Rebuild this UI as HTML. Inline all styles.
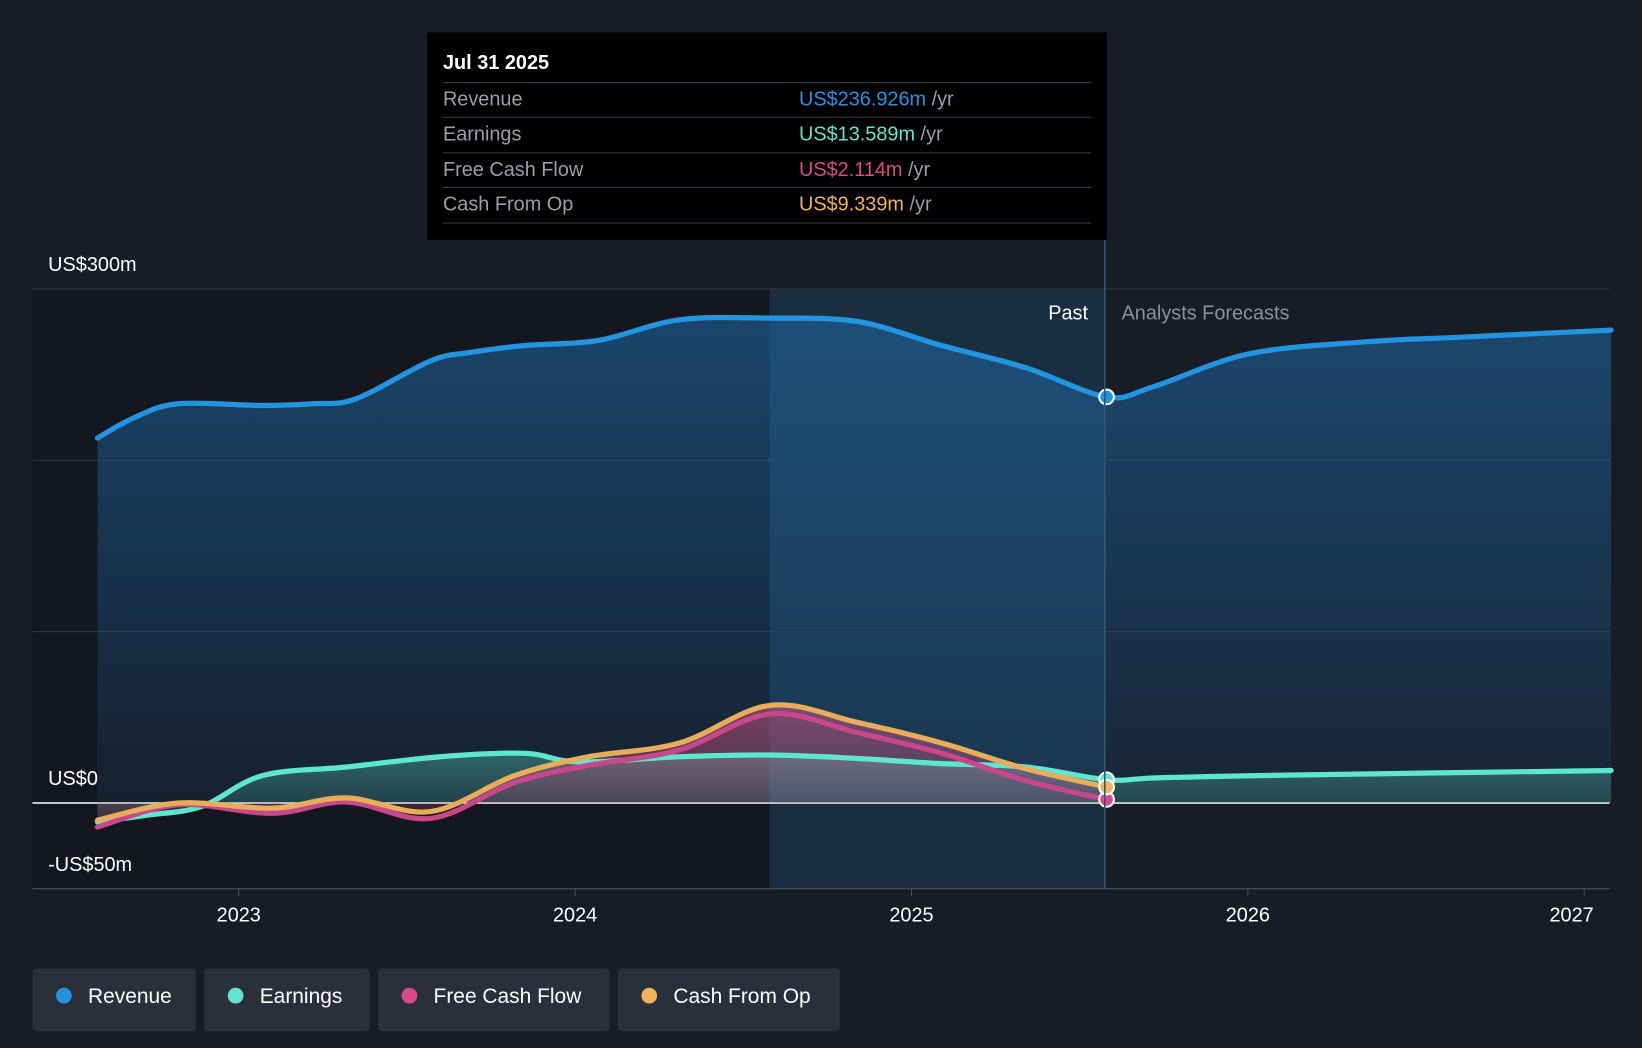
<!DOCTYPE html>
<html><head><meta charset="utf-8"><style>
html,body{margin:0;padding:0;background:#181c25;}
svg{display:block;font-family:"Liberation Sans",sans-serif;}
</style></head><body>
<svg id="chart" width="1642" height="1048" viewBox="0 0 1568 1001" preserveAspectRatio="none" xmlns="http://www.w3.org/2000/svg">
<defs>
<linearGradient id="revGrad" x1="0" y1="0" x2="0" y2="1"><stop offset="0" stop-color="#1f6aa8" stop-opacity="0.55"/><stop offset="1" stop-color="#1f6aa8" stop-opacity="0.12"/></linearGradient>
<linearGradient id="earnGrad" x1="0" y1="0" x2="0" y2="1"><stop offset="0" stop-color="#5fe0c8" stop-opacity="0.35"/><stop offset="1" stop-color="#5fe0c8" stop-opacity="0.1"/></linearGradient>
<linearGradient id="cfoGrad" x1="0" y1="0" x2="0" y2="1"><stop offset="0" stop-color="#e05a8a" stop-opacity="0.5"/><stop offset="1" stop-color="#e05a8a" stop-opacity="0.15"/></linearGradient>
</defs>
<rect x="0" y="0" width="1568" height="1001" fill="#181c25"/>
<rect x="31" y="276" width="704" height="573" fill="#14171e"/>
<rect x="735" y="276" width="320" height="573" fill="#1c3a55" opacity="0.6"/>
<g id="grid"></g>
<g id="areas"></g>
<g id="lines"></g>
<g id="axis"></g>
<line x1="1055" y1="229" x2="1055" y2="849" stroke="#2f5878" stroke-width="1.5"/>
<text x="1039" y="305" fill="#ffffff" font-size="19" text-anchor="end">Past</text>
<text x="1071" y="305" fill="#8a8f98" font-size="19">Analysts Forecasts</text>
<text x="46" y="259" fill="#ffffff" font-size="19">US$300m</text>
<text x="46" y="750" fill="#ffffff" font-size="19">US$0</text>
<text x="46" y="832" fill="#ffffff" font-size="19">-US$50m</text>
<g>
<rect x="408" y="31" width="649" height="198" fill="#000000"/>
<text x="423" y="66" fill="#ffffff" font-size="19" font-weight="bold">Jul 31 2025</text>
<line x1="423" y1="79" x2="1042" y2="79" stroke="#3a3d44"/>
<text x="423" y="101" fill="#9a9ea6" font-size="19">Revenue</text>
<text x="763" y="101" font-size="19"><tspan fill="#2394df">US$236.926m</tspan><tspan fill="#9a9ea6"> /yr</tspan></text>
<line x1="423" y1="112" x2="1042" y2="112" stroke="#3a3d44"/>
<text x="423" y="134" fill="#9a9ea6" font-size="19">Earnings</text>
<text x="763" y="134" font-size="19"><tspan fill="#5fe6cf">US$13.589m</tspan><tspan fill="#9a9ea6"> /yr</tspan></text>
<line x1="423" y1="146" x2="1042" y2="146" stroke="#3a3d44"/>
<text x="423" y="168" fill="#9a9ea6" font-size="19">Free Cash Flow</text>
<text x="763" y="168" font-size="19"><tspan fill="#d94a8c">US$2.114m</tspan><tspan fill="#9a9ea6"> /yr</tspan></text>
<line x1="423" y1="179" x2="1042" y2="179" stroke="#3a3d44"/>
<text x="423" y="201" fill="#9a9ea6" font-size="19">Cash From Op</text>
<text x="763" y="201" font-size="19"><tspan fill="#f0b45a">US$9.339m</tspan><tspan fill="#9a9ea6"> /yr</tspan></text>
<line x1="423" y1="213" x2="1042" y2="213" stroke="#3a3d44"/>
</g>
<g>
<g><rect x="31" y="925" width="156" height="60" rx="4" fill="#2a2f3a"/><circle cx="61" cy="951" r="7.5" fill="#2394df"/><text x="84" y="958" fill="#fff" font-size="20">Revenue</text></g>
<g><rect x="195" y="925" width="158" height="60" rx="4" fill="#2a2f3a"/><circle cx="225" cy="951" r="7.5" fill="#5fe6cf"/><text x="248" y="958" fill="#fff" font-size="20">Earnings</text></g>
<g><rect x="361" y="925" width="221" height="60" rx="4" fill="#2a2f3a"/><circle cx="391" cy="951" r="7.5" fill="#d94a8c"/><text x="414" y="958" fill="#fff" font-size="20">Free Cash Flow</text></g>
<g><rect x="590" y="925" width="212" height="60" rx="4" fill="#2a2f3a"/><circle cx="620" cy="951" r="7.5" fill="#f0b45a"/><text x="643" y="958" fill="#fff" font-size="20">Cash From Op</text></g>
</g>
</svg>
<script>
const revDates = [2022.58,2022.69,2022.82,2023.07,2023.22,2023.35,2023.57,2023.69,2023.85,2024.07,2024.31,2024.58,2024.84,2025.09,2025.34,2025.58,2025.72,2026.0,2026.34,2026.65,2027.08];
const revValues = [213,225,233,232,233,236,258,263,267,270,282,283,281,267,254,237,243,262,269,272,276];
const earnDates = [2022.58,2022.73,2022.89,2023.07,2023.32,2023.6,2023.85,2024.01,2024.31,2024.58,2024.84,2025.09,2025.34,2025.58,2025.72,2026.03,2027.08];
const earnValues = [-11,-7,-2,16,21,27,29,24,27,28,26,23,21,13.6,14.6,16,19];
const cashDates = [2022.58,2022.82,2023.1,2023.32,2023.57,2023.82,2024.04,2024.31,2024.58,2024.84,2025.09,2025.34,2025.58];
const fcfValues = [-14,-1,-6,0.6,-9,12,22,31,52,41,29,13,2.1];
const cfoValues = [-10,0,-3,3,-5,16,27,35,57,47,35,20,9.3];
const yTicks = [-50,0,100,200,300];
const xTicks = [2023,2024,2025,2026,2027];

const NS="http://www.w3.org/2000/svg";
const X = d => 228 + (d-2023)*321.2;
const Y = v => 767 - v*491/300;
function el(tag, attrs, parent){const e=document.createElementNS(NS,tag);for(const k in attrs)e.setAttribute(k,attrs[k]);document.getElementById(parent).appendChild(e);return e;}
function smooth(pts){let d=`M${pts[0][0]},${pts[0][1]}`;for(let i=0;i<pts.length-1;i++){const p0=pts[i-1]||pts[i],p1=pts[i],p2=pts[i+1],p3=pts[i+2]||p2;const c1=[p1[0]+(p2[0]-p0[0])/6,p1[1]+(p2[1]-p0[1])/6],c2=[p2[0]-(p3[0]-p1[0])/6,p2[1]-(p3[1]-p1[1])/6];d+=`C${c1[0]},${c1[1]} ${c2[0]},${c2[1]} ${p2[0]},${p2[1]}`;}return d;}
function pts(ds,vs){return ds.map((d,i)=>[X(d),Y(vs[i])]);}

yTicks.forEach(v=>{
  const g=el('line',{x1:31,x2:1537,y1:Y(v),y2:Y(v),stroke:v===0?'#ffffff':(v===-50?'#4a4f5a':'#2f3440'),'stroke-width':v===0?1.5:1},'grid');
  
  
});
xTicks.forEach(t=>{
  const tk=el('line',{x1:X(t),x2:X(t),y1:849,y2:856,stroke:'#4a4f5a'},'axis');
  
  
  const tx=el('text',{x:X(t)+(t===2027?-12:0),y:880,fill:'#ffffff','font-size':19,'text-anchor':'middle'},'axis');
  tx.textContent=t;
  
  
});

const rp=pts(revDates,revValues), ep=pts(earnDates,earnValues), fp=pts(cashDates,fcfValues), cp=pts(cashDates,cfoValues);
const z=Y(0);
function area(p,fill,name){const d=smooth(p)+`L${p[p.length-1][0]},${z}L${p[0][0]},${z}Z`;const a=el('path',{d:d,fill:fill},'areas');}
area(rp,'url(#revGrad)','revenue-area');
area(ep,'url(#earnGrad)','earnings-area');
area(cp,'url(#cfoGrad)','cash-area');
function line(p,color,name){const l=el('path',{d:smooth(p),fill:'none',stroke:color,'stroke-width':5,'stroke-linecap':'round'},'lines');}
line(rp,'#2394df','revenue-line');
line(ep,'#5fe6cf','earnings-line');
line(fp,'#c8478a','free-cash-flow-line');
line(cp,'#e8ad5a','cash-from-op-line');
function dot(p,color,name){const c=el('circle',{cx:p[0],cy:p[1],r:7,fill:color,stroke:'#ffffff','stroke-width':2},'lines');}
dot(rp[15],'#2394df','revenue-marker');
dot(ep[13],'#5fe6cf','earnings-marker');
dot(fp[12],'#d94a8c','fcf-marker');
dot(cp[12],'#f0b45a','cfo-marker');
</script>
</body></html>
